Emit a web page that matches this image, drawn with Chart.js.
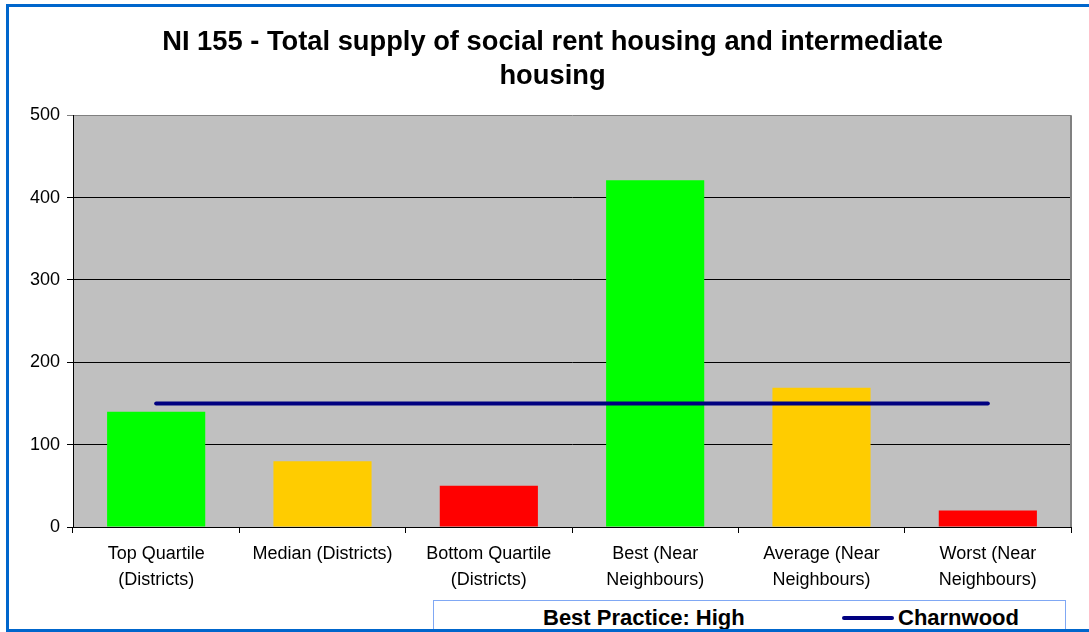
<!DOCTYPE html>
<html>
<head>
<meta charset="utf-8">
<script src="https://cdn.jsdelivr.net/npm/chart.js@4/dist/chart.umd.min.js"></script>
<style>
  html, body { margin: 0; padding: 0; background: #ffffff; overflow: hidden; }
  #wrap { position: relative; width: 1089px; height: 632px; overflow: hidden; font-family: "Liberation Sans", Arial, sans-serif; }
  #c { position: absolute; left: 0; top: 0; }
  #frame { position: absolute; left: 6px; top: 4px; width: 1200px; height: 622px; border: 3px solid #0066cc; pointer-events: none; }
  #legend { position: absolute; left: 433px; top: 600px; width: 631px; height: 60px; border: 1px solid #80a8f4; background: #ffffff; }
  .lg-text { position: absolute; font: bold 22px "Liberation Sans", Arial, sans-serif; line-height: 22px; color: #000; white-space: nowrap; top: 5.7px; }
  .lg-line { position: absolute; height: 4px; border-radius: 2px; }
</style>
</head>
<body>
<div id="wrap">
  <canvas id="c" width="1089" height="632"></canvas>
  <div id="legend"></div>
  <div id="frame"></div>
</div>
<script>
// ---- Data ----
const chartTitle = ["NI 155 - Total supply of social rent housing and intermediate", "housing"];
const categories = [
  ["Top Quartile", "(Districts)"],
  "Median (Districts)",
  ["Bottom Quartile", "(Districts)"],
  ["Best (Near", "Neighbours)"],
  ["Average (Near", "Neighbours)"],
  ["Worst (Near", "Neighbours)"]
];
const benchmarkValues = [140, 80, 50, 421, 169, 20];
const benchmarkColors = ["#00ff00", "#ffcc00", "#ff0000", "#00ff00", "#ffcc00", "#ff0000"];
const charnwoodValues = [150, 150, 150, 150, 150, 150];
const benchmarkLabel = "Best Practice: High";
const charnwoodLabel = "Charnwood";
const yTicks = [0, 100, 200, 300, 400, 500];

const FONT = '"Liberation Sans", Arial, sans-serif';

const plotBg = {
  id: 'plotBg',
  beforeDraw(chart) {
    const a = chart.chartArea, ctx = chart.ctx;
    ctx.save();
    ctx.fillStyle = '#c0c0c0';
    ctx.fillRect(a.left, a.top, a.right - a.left, a.bottom - a.top);
    ctx.restore();
  },
  beforeDatasetsDraw(chart) {
    const a = chart.chartArea, ctx = chart.ctx;
    ctx.save();
    ctx.strokeStyle = '#808080';
    ctx.lineWidth = 2;
    ctx.beginPath();
    ctx.moveTo(a.right, a.top);
    ctx.lineTo(a.right, a.bottom);
    ctx.stroke();
    ctx.restore();
  }
};

const chart = new Chart(document.getElementById('c'), {
  type: 'bar',
  data: {
    labels: categories,
    datasets: [
      {
        type: 'line',
        label: charnwoodLabel,
        data: charnwoodValues,
        borderColor: '#000080',
        backgroundColor: '#000080',
        borderWidth: 4,
        borderCapStyle: 'round',
        pointRadius: 0,
        order: 0
      },
      {
        type: 'bar',
        label: benchmarkLabel,
        data: benchmarkValues,
        backgroundColor: benchmarkColors,
        borderWidth: 0,
        barPercentage: 0.59,
        categoryPercentage: 1.0,
        order: 1
      }
    ]
  },
  options: {
    responsive: false,
    animation: false,
    devicePixelRatio: 1,
    layout: { padding: { left: 0, right: 18, top: 0, bottom: 0 } },
    plugins: {
      legend: { display: false },
      tooltip: { enabled: false },
      title: {
        display: true,
        text: chartTitle,
        color: '#000',
        font: { family: FONT, size: 27.3, weight: 'bold', lineHeight: 1.233 },
        padding: { top: 26, bottom: 22 }
      }
    },
    scales: {
      x: {
        grid: { offset: true, drawOnChartArea: false, drawTicks: true, tickLength: 6, color: '#000', lineWidth: 1 },
        border: { color: '#000', width: 1 },
        ticks: { color: '#000', font: { family: FONT, size: 18, lineHeight: 1.45 }, padding: 8, autoSkip: false, maxRotation: 0, minRotation: 0 },
        afterFit(scale) { scale.height = 105; }
      },
      y: {
        min: 0, max: 500,
        afterBuildTicks(scale) { scale.ticks = yTicks.map(v => ({ value: v })); },
        grid: {
          color: (ctx) => (ctx.tick && ctx.tick.value === 500) ? '#808080' : '#000',
          lineWidth: 1, tickLength: 6, drawTicks: true
        },
        border: { color: '#000', width: 1 },
        ticks: { color: '#000', font: { family: FONT, size: 18 }, padding: 7 },
        afterFit(scale) { scale.width = 73; }
      }
    }
  },
  plugins: [plotBg]
});

// Title in the reference is centred slightly right of the canvas centre.
if (chart.titleBlock) {
  const tb = chart.titleBlock;
  const origDraw = tb.draw.bind(tb);
  tb.draw = function () {
    const ctx = this.ctx;
    ctx.save();
    ctx.translate(17, 0);
    origDraw();
    ctx.restore();
  };
  chart.update();
}

// ---- HTML legend built from dataset labels ----
const legend = document.getElementById('legend');
const t1 = document.createElement('span');
t1.className = 'lg-text'; t1.style.left = '109px'; t1.textContent = benchmarkLabel;
legend.appendChild(t1);
const ln = document.createElement('div');
ln.className = 'lg-line'; ln.style.left = '408px'; ln.style.width = '52px'; ln.style.top = '15px';
ln.style.background = chart.data.datasets[0].borderColor;
legend.appendChild(ln);
const t2 = document.createElement('span');
t2.className = 'lg-text'; t2.style.left = '464px'; t2.textContent = charnwoodLabel;
legend.appendChild(t2);
</script>
</body>
</html>
